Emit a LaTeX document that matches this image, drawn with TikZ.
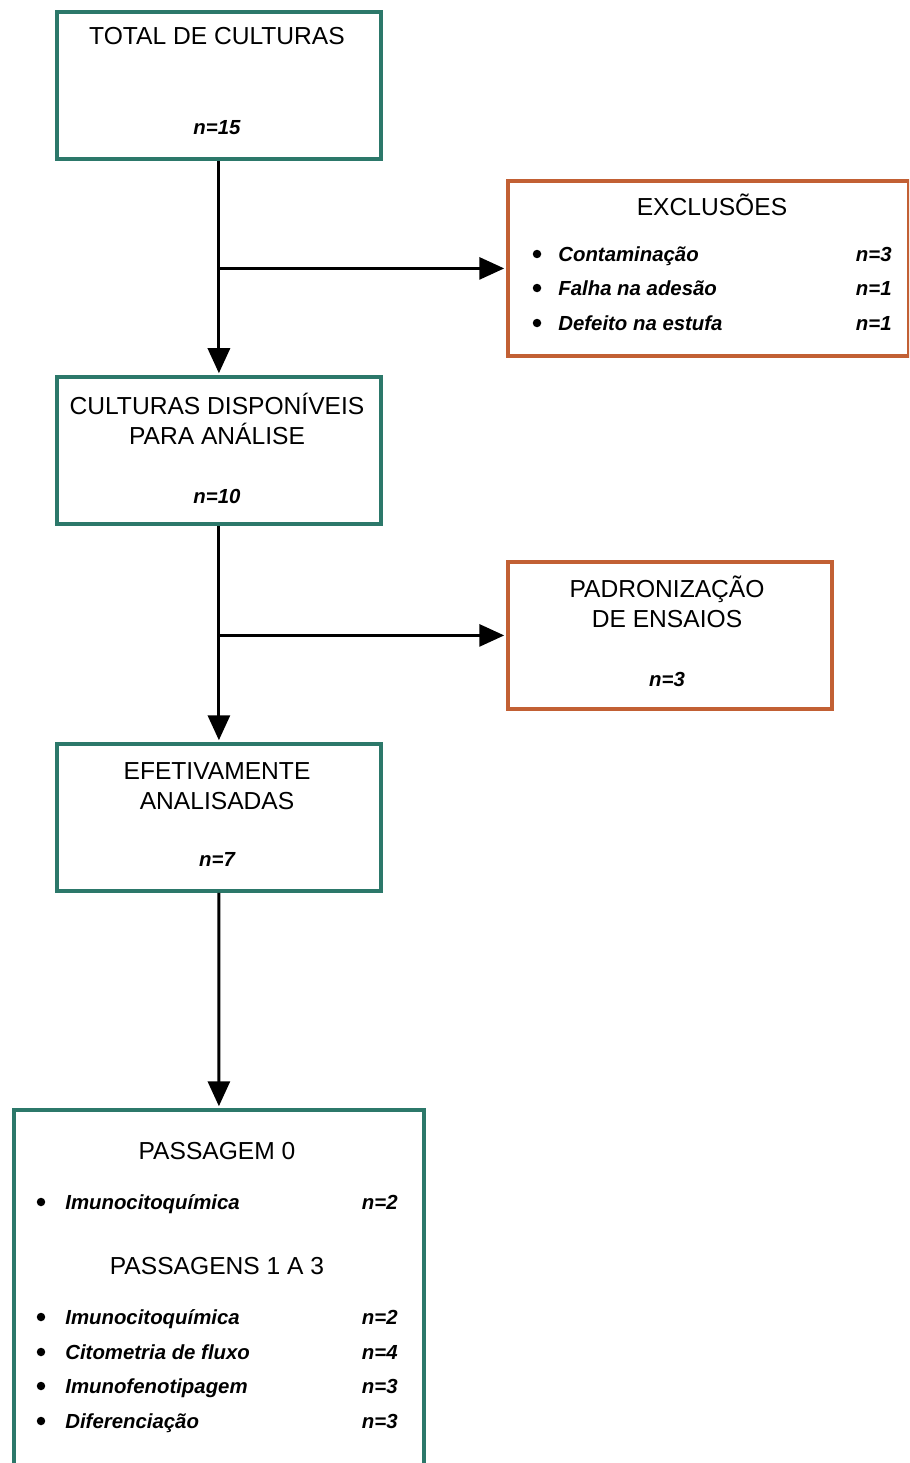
\documentclass[tikz,border=0pt]{standalone}
\usepackage{fontspec}
\setmainfont{Liberation Sans}
\usetikzlibrary{arrows.meta}
\definecolor{verde}{RGB}{44,120,106}
\definecolor{laranja}{RGB}{194,96,52}

\begin{document}
\begin{tikzpicture}[x=0.02cm, y=-0.02cm,
  caixa/.style={draw=verde, line width=2.2pt, anchor=north west, inner sep=0pt,
    minimum width=6.48cm, minimum height=2.94cm},
  caixalar/.style={caixa, draw=laranja},
  titulo/.style={font=\fontsize{14}{17}\selectfont, anchor=base, inner sep=0pt},
  valor/.style={font=\fontsize{11.6}{14}\selectfont\bfseries\itshape, anchor=base, inner sep=0pt},
  item/.style={valor, anchor=base west},
  nval/.style={valor, anchor=base east},
  marca/.style={circle, fill, inner sep=0pt, minimum size=0.17cm},
  seta/.style={-{Triangle[length=0.5cm, width=0.44cm]}, line width=1.8pt, shorten >=1pt}]
\clip (0,0) rectangle (909,1463);
% caixas
\node[caixa] (tot) at (55,10) {};
\node[caixalar, minimum width=8.02cm, minimum height=3.5cm] (excl) at (506,179) {};
\node[caixa] (disp) at (55,375) {};
\node[caixalar] (padr) at (506,560) {};
\node[caixa] (efet) at (55,742) {};
\node[caixa, minimum width=8.2cm, minimum height=7.9cm] (pass) at (12,1108) {};
% textos
\node[titulo] (tot1) at (217,45) {TOTAL DE CULTURAS};
\node[valor] (totn) at (217,135) {n=15};
\node[titulo] (excl1) at (712,215) {EXCLUSÕES};
\node[marca] (eb1) at (537,254) {};
\node[item] (ei1) at (558,261) {Contaminação};
\node[nval] (en1) at (892,261) {n=3};
\node[marca] (eb2) at (537,288) {};
\node[item] (ei2) at (558,295) {Falha na adesão};
\node[nval] (en2) at (892,295) {n=1};
\node[marca] (eb3) at (537,323) {};
\node[item] (ei3) at (558,330) {Defeito na estufa};
\node[nval] (en3) at (892,330) {n=1};
\node[titulo] (disp1) at (217,414) {CULTURAS DISPONÍVEIS};
\node[titulo] (disp2) at (217,444) {PARA ANÁLISE};
\node[valor] (dispn) at (217,503) {n=10};
\node[titulo] (padr1) at (667,597) {PADRONIZAÇÃO};
\node[titulo] (padr2) at (667,627) {DE ENSAIOS};
\node[valor] (padrn) at (667,686) {n=3};
\node[titulo] (efet1) at (217,779) {EFETIVAMENTE};
\node[titulo] (efet2) at (217,809) {ANALISADAS};
\node[valor] (efetn) at (217,866) {n=7};
\node[titulo] (pass1) at (217,1159) {PASSAGEM 0};
\node[marca] (pb0) at (41,1202) {};
\node[item] (pi0) at (65,1209) {Imunocitoquímica};
\node[nval] (pn0) at (398,1209) {n=2};
\node[titulo] (pass2) at (217,1274) {PASSAGENS 1 A 3};
\node[marca] (pb1) at (41,1317) {};
\node[item] (pi1) at (65,1324) {Imunocitoquímica};
\node[nval] (pn1) at (398,1324) {n=2};
\node[marca] (pb2) at (41,1352) {};
\node[item] (pi2) at (65,1359) {Citometria de fluxo};
\node[nval] (pn2) at (398,1359) {n=4};
\node[marca] (pb3) at (41,1386) {};
\node[item] (pi3) at (65,1393) {Imunofenotipagem};
\node[nval] (pn3) at (398,1393) {n=3};
\node[marca] (pb4) at (41,1421) {};
\node[item] (pi4) at (65,1428) {Diferenciação};
\node[nval] (pn4) at (398,1428) {n=3};
% setas
\draw[seta] (tot) -- (disp);
\draw[seta] (tot.south |- excl.west) -- (excl.west);
\draw[seta] (disp) -- (efet);
\draw[seta] (disp.south |- padr.west) -- (padr.west);
\draw[seta] (efet) -- (pass);
\end{tikzpicture}
\end{document}
